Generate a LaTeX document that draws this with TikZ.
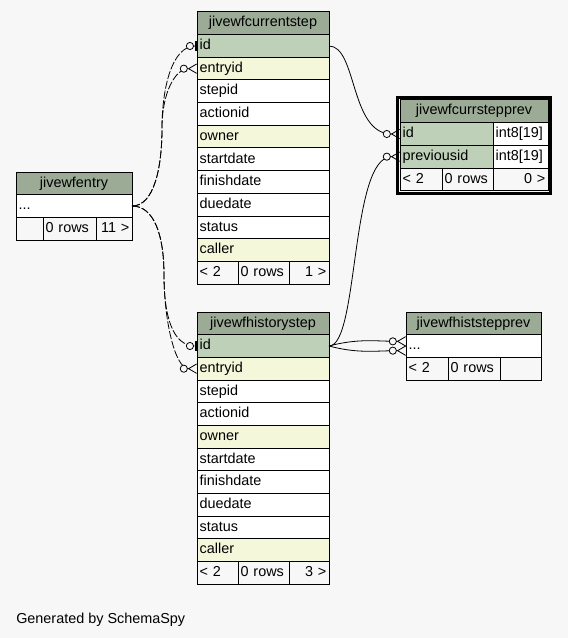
\documentclass[tikz,border=0pt]{standalone}
\usepackage{fontspec}
\setmainfont{Liberation Sans}
\usepackage{tikz}
\usetikzlibrary{arrows.meta,positioning,fit}

\definecolor{bgcol}{HTML}{F7F7F7}
\definecolor{headcol}{HTML}{9BAB96}
\definecolor{keycol}{HTML}{BED1B8}
\definecolor{idxcol}{HTML}{F4F7DA}

\begin{document}
\begin{tikzpicture}[
  x=0.75pt, y=0.75pt,
  font=\fontsize{10.8}{12}\selectfont,
  tbl/.style={draw, line width=0.75pt, outer sep=0pt, inner xsep=2pt, inner ysep=0pt,
    minimum height=17pt, text height=8pt, text depth=2.5pt},
  head/.style={tbl, fill=headcol, minimum width=#1},
  col/.style 2 args={tbl, fill=#2, text width=#1, align=left},
  implied/.style={dash pattern=on 6pt off 1.5pt},
  rel/.style={line width=0.6pt},
  zeroone/.style={-{Circle[open,fill=bgcol,length=6pt,sep=0.5pt] Bar[width=7pt,line width=1.8pt]}},
  zeromany/.style={-{Circle[open,fill=bgcol,length=6pt] Straight Barb[reversed,length=6pt,width=7pt]}}
]
\fill[bgcol] (0,0) rectangle (568,-638);

% jivewfcurrentstep
\node[head=99pt, anchor=north west] (cs) at (197,-12) {jivewfcurrentstep};
\node[col={95pt}{keycol}, below=0pt of cs] (cs-id) {id};
\node[col={95pt}{idxcol}, below=0pt of cs-id] (cs-entryid) {entryid};
\node[col={95pt}{white}, below=0pt of cs-entryid] (cs-stepid) {stepid};
\node[col={95pt}{white}, below=0pt of cs-stepid] (cs-actionid) {actionid};
\node[col={95pt}{idxcol}, below=0pt of cs-actionid] (cs-owner) {owner};
\node[col={95pt}{white}, below=0pt of cs-owner] (cs-startdate) {startdate};
\node[col={95pt}{white}, below=0pt of cs-startdate] (cs-finishdate) {finishdate};
\node[col={95pt}{white}, below=0pt of cs-finishdate] (cs-duedate) {duedate};
\node[col={95pt}{white}, below=0pt of cs-duedate] (cs-status) {status};
\node[col={95pt}{idxcol}, below=0pt of cs-status] (cs-caller) {caller};
\node[col={26.75pt}{bgcol}, below right=0pt of cs-caller.south west] (cs-f1) {< 2};
\node[col={34.25pt}{bgcol}, right=0pt of cs-f1] (cs-f2) {0 rows};
\node[col={26pt}{bgcol}, align=right, right=0pt of cs-f2] (cs-f3) {1 >};

% jivewfhistorystep
\node[head=99pt, anchor=north west] (hs) at (197,-312) {jivewfhistorystep};
\node[col={95pt}{keycol}, below=0pt of hs] (hs-id) {id};
\node[col={95pt}{idxcol}, below=0pt of hs-id] (hs-entryid) {entryid};
\node[col={95pt}{white}, below=0pt of hs-entryid] (hs-stepid) {stepid};
\node[col={95pt}{white}, below=0pt of hs-stepid] (hs-actionid) {actionid};
\node[col={95pt}{idxcol}, below=0pt of hs-actionid] (hs-owner) {owner};
\node[col={95pt}{white}, below=0pt of hs-owner] (hs-startdate) {startdate};
\node[col={95pt}{white}, below=0pt of hs-startdate] (hs-finishdate) {finishdate};
\node[col={95pt}{white}, below=0pt of hs-finishdate] (hs-duedate) {duedate};
\node[col={95pt}{white}, below=0pt of hs-duedate] (hs-status) {status};
\node[col={95pt}{idxcol}, below=0pt of hs-status] (hs-caller) {caller};
\node[col={26.75pt}{bgcol}, below right=0pt of hs-caller.south west] (hs-f1) {< 2};
\node[col={34.25pt}{bgcol}, right=0pt of hs-f1] (hs-f2) {0 rows};
\node[col={26pt}{bgcol}, align=right, right=0pt of hs-f2] (hs-f3) {3 >};

% jivewfentry
\node[head=87pt, anchor=north west] (ent) at (16,-172) {jivewfentry};
\node[col={83pt}{white}, below=0pt of ent] (ent-dots) {...};
\node[col={16.25pt}{bgcol}, below right=0pt of ent-dots.south west] (ent-f1) {};
\node[col={35.75pt}{bgcol}, right=0pt of ent-f1] (ent-f2) {0 rows};
\node[col={23pt}{bgcol}, align=right, right=0pt of ent-f2] (ent-f3) {11 >};

% jivewfcurrstepprev
\node[head=111pt, anchor=north west] (csp) at (400,-100) {jivewfcurrstepprev};
\node[col={65.75pt}{keycol}, below right=0pt of csp.south west] (csp-id) {id};
\node[col={37.25pt}{white}, right=0pt of csp-id] (csp-idtype) {int8[19]};
\node[col={65.75pt}{keycol}, below right=0pt of csp-id.south west] (csp-previousid) {previousid};
\node[col={37.25pt}{white}, right=0pt of csp-previousid] (csp-previoustype) {int8[19]};
\node[col={27.5pt}{bgcol}, below right=0pt of csp-previousid.south west] (csp-f1) {< 2};
\node[col={34.25pt}{bgcol}, right=0pt of csp-f1] (csp-f2) {0 rows};
\node[col={37.25pt}{bgcol}, align=right, right=0pt of csp-f2] (csp-f3) {0 >};
\node[draw, line width=2.25pt, inner sep=1.8pt, fit=(csp)(csp-f3)] (csp-frame) {};

% jivewfhiststepprev
\node[head=101.25pt, anchor=north west] (hsp) at (406,-312) {jivewfhiststepprev};
\node[col={97.25pt}{white}, below=0pt of hsp] (hsp-dots) {...};
\node[col={27.5pt}{bgcol}, below right=0pt of hsp-dots.south west] (hsp-f1) {< 2};
\node[col={35pt}{bgcol}, right=0pt of hsp-f1] (hsp-f2) {0 rows};
\node[col={26.75pt}{bgcol}, right=0pt of hsp-f2] (hsp-f3) {};

\node[anchor=west, inner sep=0pt] (credit) at (16,-620) {Generated by SchemaSpy};

% relationships
\coordinate (up-bend) at (162,-128);
\coordinate (down-bend) at (164,-275);
\draw[rel, implied, zeroone] (ent-dots.east) .. controls +(22,0) and +(0,-40) .. (up-bend)
  .. controls +(0,40) and +(-25,0) .. (cs-id.west);
\draw[rel, implied, zeromany] (ent-dots.east) .. controls +(22,0) and +(0,-40) .. (up-bend)
  .. controls +(0,35) and +(-22,0) .. (cs-entryid.west);
\draw[rel, implied, zeroone] (ent-dots.east) .. controls +(22,0) and +(0,40) .. (down-bend)
  .. controls +(0,-40) and +(-25,0) .. (hs-id.west);
\draw[rel, implied, zeromany] (ent-dots.east) .. controls +(22,0) and +(0,40) .. (down-bend)
  .. controls +(0,-45) and +(-22,0) .. (hs-entryid.west);
\draw[rel, zeromany] (cs-id.east) .. controls +(28,0) and +(-50,0) .. (csp-id.west);
\draw[rel, zeromany] (hs-id.east) .. controls +(30,0) and +(-50,0) .. (csp-previousid.west);
\draw[rel, zeromany] (hs-id.east) to[out=15, in=180] ([yshift=3.5pt]hsp-dots.west);
\draw[rel, zeromany] (hs-id.east) to[out=-15, in=180] ([yshift=-3.5pt]hsp-dots.west);
\end{tikzpicture}
\end{document}
